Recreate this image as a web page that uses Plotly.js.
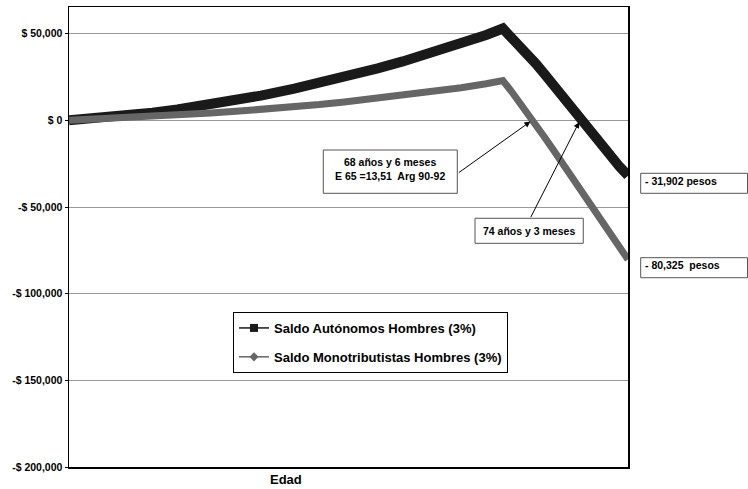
<!DOCTYPE html>
<html>
<head>
<meta charset="utf-8">
<script src="https://cdn.plot.ly/plotly-3.0.1.min.js"></script>
<style>html,body{margin:0;padding:0;background:#fff}</style>
</head>
<body>
<div id="chart" style="width:748px;height:489px"></div>
<script>
// Edad (x) — no tick labels shown on the reference axis
const edad = [13, 16, 20, 23, 26, 30, 33, 36, 40, 43, 46, 50, 53, 56, 60, 63, 65,
              66, 67, 68, 69, 70, 71, 72, 73, 74, 75, 76, 77, 78, 79, 80];
const saldoAutonomos = [0, 1100, 2900, 4450, 6250, 9050, 11500, 14300, 18300, 21500, 25000,
                        30000, 34000, 38300, 44300, 49300, 53000,
                        48200, 43200, 38000, 32500, 26700, 20700, 14500, 8200, 1800, -4500,
                        -10500, -16300, -21600, -26800, -31902];
const saldoMonotributistas = [0, 600, 1300, 2000, 2900, 4200, 5200, 6200, 7800, 9100, 10600,
                              12700, 14300, 16000, 18800, 21100, 23000,
                              16900, 10600, 4000, -2800, -9700, -16700, -23700, -30700, -37700,
                              -44700, -51700, -58800, -65900, -73100, -80325];
const nombreAutonomos = 'Saldo Autónomos Hombres (3%)';
const nombreMonotributistas = 'Saldo Monotributistas Hombres (3%)';

const yTicks = [50000, 0, -50000, -100000, -150000, -200000];
const yTickLabels = ['$ 50,000', '$ 0', '-$ 50,000', '-$ 100,000', '-$ 150,000', '-$ 200,000'];

// crossing points pointed by arrows (edad, saldo)
const cruceMonotributistas = [68.5, 0];
const cruceAutonomos = [74.25, 0];
const textoCruce1 = '68 años y 6 meses<br>E 65 =13,51  Arg 90-92';
const textoCruce2 = '74 años y 3 meses';
const textoFinalAut = '- 31,902 pesos';
const textoFinalMono = '- 80,325  pesos';

const FONT = 'Liberation Sans, Arial, sans-serif';
const BLACK = '#1a1a1a';
const GRAY = '#666666';

const traces = [
  {x: edad, y: saldoAutonomos, mode: 'lines', showlegend: false,
   line: {color: BLACK, width: 10}, hoverinfo: 'skip'},
  {x: edad, y: saldoMonotributistas, mode: 'lines', showlegend: false,
   line: {color: GRAY, width: 7}, hoverinfo: 'skip'},
  {x: [null], y: [null], mode: 'lines+markers', name: nombreAutonomos, legendgroup: 'a',
   line: {color: BLACK, width: 1.5}, marker: {symbol: 'square', size: 8, color: BLACK}},
  {x: [null], y: [null], mode: 'lines+markers', name: nombreMonotributistas, legendgroup: 'b',
   line: {color: GRAY, width: 1.5}, marker: {symbol: 'diamond', size: 7, color: GRAY}}
];

function box(x0, x1, y0, y1) {
  return {type: 'rect', xref: 'paper', yref: 'paper', x0: x0, x1: x1, y0: y0, y1: y1,
          line: {color: '#555', width: 1}, fillcolor: 'rgba(255,255,255,1)', layer: 'above'};
}

const tfont = {family: FONT, size: 10.5, color: '#000', weight: 'bold'};

const layout = {
  width: 748, height: 489,
  margin: {l: 69, r: 120, t: 7, b: 22, pad: 0},
  paper_bgcolor: '#fff', plot_bgcolor: '#fff',
  font: {family: FONT, size: 11, color: '#000', weight: 'bold'},
  showlegend: true,
  legend: {x: 0.2934, y: 0.337, xanchor: 'left', yanchor: 'top',
           bordercolor: '#000', borderwidth: 1, bgcolor: '#fff',
           font: {family: FONT, size: 13, color: '#000', weight: 'bold'},
           traceorder: 'grouped', tracegroupgap: 9, itemwidth: 30},
  xaxis: {range: [13, 80], showgrid: false, zeroline: false, showline: true, mirror: true,
          linecolor: '#000', linewidth: 1.5, showticklabels: false, ticks: '', fixedrange: true},
  yaxis: {range: [-200000, 65400], tickvals: yTicks, ticktext: yTickLabels,
          showgrid: true, gridcolor: '#999', gridwidth: 1, zeroline: false,
          showline: true, mirror: true, linecolor: '#000', linewidth: 1.5,
          ticks: 'outside', ticklen: 3, tickcolor: '#000',
          tickfont: {family: FONT, size: 10.5, color: '#000', weight: 'bold'}, fixedrange: true},
  shapes: [
    box(0.4549, 0.6946, 0.595, 0.6891),
    box(0.7263, 0.9200, 0.4863, 0.5407),
    box(1.0227, 1.2138, 0.595, 0.6385),
    box(1.0227, 1.2138, 0.4115, 0.455)
  ],
  annotations: [
    {x: cruceMonotributistas[0], y: cruceMonotributistas[1], xref: 'x', yref: 'y', text: '',
     showarrow: true, arrowhead: 2, arrowsize: 1.2, arrowwidth: 1, arrowcolor: '#000',
     ax: -74.7, ay: 53.3, standoff: 2},
    {x: cruceAutonomos[0], y: cruceAutonomos[1], xref: 'x', yref: 'y', text: '',
     showarrow: true, arrowhead: 2, arrowsize: 1.2, arrowwidth: 1, arrowcolor: '#000',
     ax: -50, ay: 98.3, standoff: 2},
    {x: 0.5748, y: 0.6485, xref: 'paper', yref: 'paper', text: textoCruce1, showarrow: false,
     xanchor: 'center', yanchor: 'middle', align: 'center', font: tfont},
    {x: 0.8233, y: 0.5135, xref: 'paper', yref: 'paper', text: textoCruce2, showarrow: false,
     xanchor: 'center', yanchor: 'middle', font: tfont},
    {x: 1.0268, y: 0.6217, xref: 'paper', yref: 'paper', text: textoFinalAut, showarrow: false,
     xanchor: 'left', yanchor: 'middle', font: tfont},
    {x: 1.0268, y: 0.4391, xref: 'paper', yref: 'paper', text: textoFinalMono, showarrow: false,
     xanchor: 'left', yanchor: 'middle', font: tfont},
    {x: 0.388, y: -0.028, xref: 'paper', yref: 'paper', text: 'Edad', showarrow: false,
     xanchor: 'center', yanchor: 'middle',
     font: {family: FONT, size: 13, color: '#000', weight: 'bold'}}
  ]
};

Plotly.newPlot('chart', traces, layout, {displayModeBar: false, staticPlot: true});
</script>
</body>
</html>
